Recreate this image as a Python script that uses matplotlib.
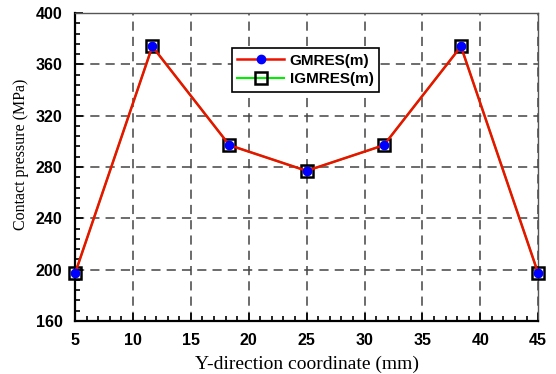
import matplotlib.pyplot as plt
from matplotlib.ticker import MultipleLocator

# data
y_coord = [5, 11.67, 18.33, 25, 31.67, 38.33, 45]
p_gmres = [197, 374, 297, 277, 297, 374, 197]
p_igmres = [197, 374, 297, 277, 297, 374, 197]

fig = plt.figure(figsize=(5.56, 3.74), dpi=100)
ax = fig.add_axes([0.135, 0.142, 0.833, 0.823])

ax.plot(y_coord, p_igmres, color="#00ee00", lw=1.5, marker="s", ms=8,
        mfc="none", mec="black", mew=1.8, label="IGMRES(m)", zorder=3, clip_on=False)
ax.plot(y_coord, p_gmres, color="#ee1100", lw=1.8, marker="o", ms=6,
        mfc="blue", mec="blue", label="GMRES(m)", zorder=4, clip_on=False)

ax.set_xlim(5, 45)
ax.set_ylim(160, 400)
ax.xaxis.set_major_locator(MultipleLocator(5))
ax.xaxis.set_minor_locator(MultipleLocator(1))
ax.yaxis.set_major_locator(MultipleLocator(40))
ax.yaxis.set_minor_locator(MultipleLocator(8))
ax.tick_params(which="both", direction="in", top=False, right=False, width=1.2)
ax.tick_params(which="major", length=6, pad=9)
ax.tick_params(which="minor", length=3.5)
for lab in ax.get_xticklabels() + ax.get_yticklabels():
    lab.set_fontfamily("Liberation Sans")
    lab.set_fontweight("bold")
    lab.set_fontsize(11.5)

ax.grid(True, which="major", ls=(0, (6, 4)), color="#444444", lw=1.1)
for s in ["left", "bottom"]:
    ax.spines[s].set_linewidth(1.6)
for s in ["top", "right"]:
    ax.spines[s].set_linewidth(1.0)
    ax.spines[s].set_color("#555555")

ax.set_xlabel("Y-direction coordinate (mm)", family="Liberation Serif", fontsize=14, labelpad=5)
ax.set_ylabel("Contact pressure (MPa)", family="Liberation Serif", fontsize=11.5)
ax.yaxis.set_label_coords(-0.1, 0.542)

h, l = ax.get_legend_handles_labels()
leg = ax.legend(h[::-1], l[::-1], loc="center", bbox_to_anchor=(0.497, 0.815),
                prop={"family": "Liberation Sans", "weight": "bold", "size": 11},
                frameon=True, fancybox=False, edgecolor="black", framealpha=1,
                handlelength=3.1, handletextpad=0.35, borderpad=0.35, labelspacing=0.3)
leg.get_frame().set_linewidth(1.2)

fig.savefig("out.png", dpi=100)
